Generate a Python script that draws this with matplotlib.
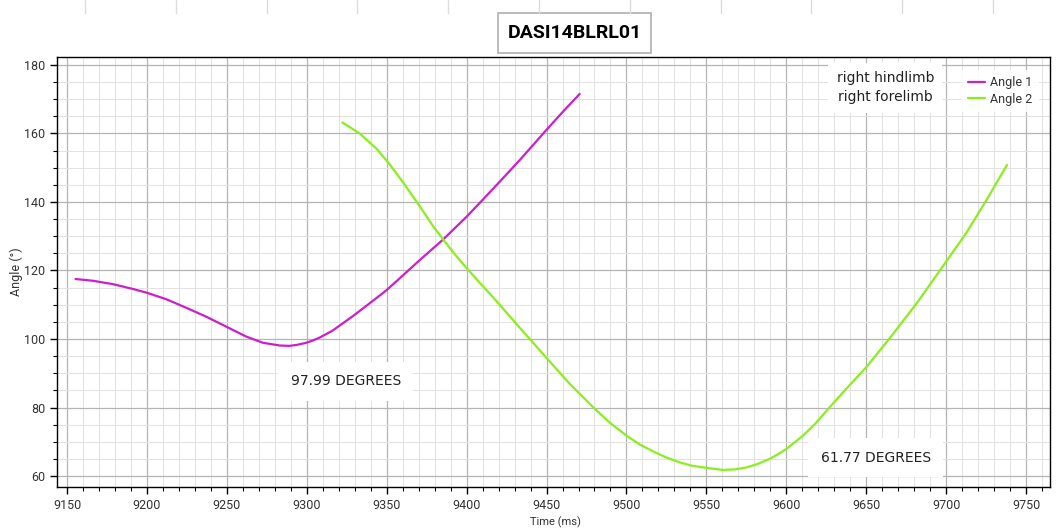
"""Joint angle trace for trial DASI14BLRL01: hindlimb vs forelimb angle over time."""
import matplotlib
matplotlib.use("Agg")
import matplotlib.pyplot as plt
from matplotlib.lines import Line2D
from matplotlib.patches import Rectangle
from matplotlib.ticker import MultipleLocator
import numpy as np

TITLE = "DASI14BLRL01"

# Angle 1 - right hindlimb
T1 = [9155.3, 9166.1, 9178.7, 9191.2, 9199.9, 9212.1, 9224.6, 9237.1, 9249.6,
      9262.1, 9272.5, 9283.0, 9289.2, 9294.0, 9299.7, 9304.0, 9308.0, 9316.0,
      9322.0, 9328.9, 9339.0, 9349.8, 9360.0, 9370.6, 9385.2, 9399.8, 9410.0,
      9420.7, 9433.2, 9449.9, 9460.0, 9470.7]
A1 = [117.5, 117.0, 116.0, 114.6, 113.5, 111.6, 109.1, 106.5, 103.6,
      100.7, 98.9, 98.1, 97.99, 98.3, 98.9, 99.6, 100.4, 102.4,
      104.4, 106.7, 110.3, 114.2, 118.5, 123.0, 129.0, 135.6, 140.6,
      145.9, 152.2, 161.0, 166.2, 171.5]

# Angle 2 - right forelimb
T2 = [9322.2, 9333.0, 9343.5, 9351.8, 9360.1, 9370.6, 9378.9, 9386.2, 9393.0,
      9399.8, 9408.0, 9416.5, 9433.2, 9450.9, 9464.5, 9479.1, 9489.5, 9500.0,
      9508.0, 9516.6, 9525.0, 9533.3, 9541.0, 9550.0, 9560.4, 9568.0, 9575.0,
      9582.0, 9589.6, 9595.0, 9600.0, 9610.5, 9618.0, 9627.2, 9638.0, 9650.1,
      9664.5, 9681.4, 9698.1, 9712.7, 9725.2, 9738.1]
A2 = [163.2, 160.0, 155.6, 151.0, 145.8, 138.8, 133.0, 128.5, 124.5,
      120.8, 116.5, 112.2, 103.3, 94.0, 86.9, 80.1, 75.6, 71.8,
      69.3, 67.2, 65.4, 64.0, 63.0, 62.4, 61.77, 61.95, 62.5,
      63.5, 65.0, 66.4, 67.9, 71.8, 75.2, 80.1, 85.7, 91.8,
      100.1, 110.3, 121.3, 131.0, 140.5, 150.8]

MIN1 = 97.99
MIN2 = 61.77

C1 = "#cc1fcc"
C2 = "#8aef1c"

fig = plt.figure(figsize=(10.58, 5.29), dpi=100)
ax = fig.add_axes([57 / 1058, 1 - 487 / 529, 993 / 1058, 430 / 529])

ax.plot(T1, A1, color=C1, lw=1.6, label="Angle 1", zorder=4,
        solid_joinstyle="round", solid_capstyle="round")
ax.plot(T2, A2, color=C2, lw=1.6, label="Angle 2", zorder=4,
        solid_joinstyle="round", solid_capstyle="round")

ax.set_xlim(9143.7, 9765)
ax.set_ylim(56.8, 182.3)
ax.xaxis.set_major_locator(MultipleLocator(50))
ax.xaxis.set_minor_locator(MultipleLocator(10))
ax.yaxis.set_major_locator(MultipleLocator(20))
ax.yaxis.set_minor_locator(MultipleLocator(5))
ax.grid(which="major", color="#b4b4b4", lw=0.9, zorder=1)
ax.grid(which="minor", color="#e2e2e2", lw=0.7, zorder=0)
ax.set_axisbelow(True)

ax.tick_params(which="major", direction="out", length=5, width=1,
               labelsize=9, labelcolor="#333333")
ax.tick_params(which="minor", direction="out", length=3, width=0.8)
for lab in ax.get_xticklabels() + ax.get_yticklabels():
    lab.set_fontfamily("Roboto")
for sp in ax.spines.values():
    sp.set_color("black")
    sp.set_linewidth(1.0)

ax.set_ylabel("Angle (°)", fontsize=9, color="#333333", family="Roboto",
              labelpad=1)
fig.text(0.525, 0.002, "Time (ms)", fontsize=8, color="#333333",
         family="Roboto", ha="center", va="bottom")

# minimum value labels
box = dict(boxstyle="square,pad=0.9", fc="white", ec="none")
ax.text(9324.3, 87.6, f"{MIN1:.2f} DEGREES", fontsize=10, color="#222222",
        ha="center", va="center", bbox=box, zorder=5)
ax.text(9656.0, 65.4, f"{MIN2:.2f} DEGREES", fontsize=10, color="#222222",
        ha="center", va="center", bbox=box, zorder=5)

# limb names next to the legend
ax.text(9662.0, 173.3, "right hindlimb\nright forelimb", fontsize=10,
        color="#222222", ha="center", va="center", linespacing=1.45,
        bbox=dict(boxstyle="square,pad=0.6", fc="white", ec="none"), zorder=5)

leg = ax.legend(loc="upper right", bbox_to_anchor=(0.995, 0.985), fontsize=9,
                frameon=True, fancybox=False, framealpha=0.85,
                edgecolor="none", handlelength=1.4, handletextpad=0.4,
                labelspacing=0.3, borderpad=0.5)
for t in leg.get_texts():
    t.set_color("#333333")
    t.set_fontfamily("Roboto")

# title box
fig.add_artist(Rectangle((498 / 1058, 1 - 53 / 529), 153 / 1058, 40 / 529,
                         transform=fig.transFigure, fc="white", ec="#b0b0b0",
                         lw=1.2))
fig.text(574.5 / 1058, 1 - 33 / 529, TITLE, fontsize=14, fontweight="bold",
         family="Roboto", ha="center", va="center", color="black")

# faint ruler marks along the top edge
for px in np.arange(85, 1000, 90.8):
    fig.add_artist(Line2D([px / 1058, px / 1058], [1, 1 - 13 / 529],
                          transform=fig.transFigure, color="#dcdcdc", lw=1))

fig.savefig("out.png", dpi=100)
